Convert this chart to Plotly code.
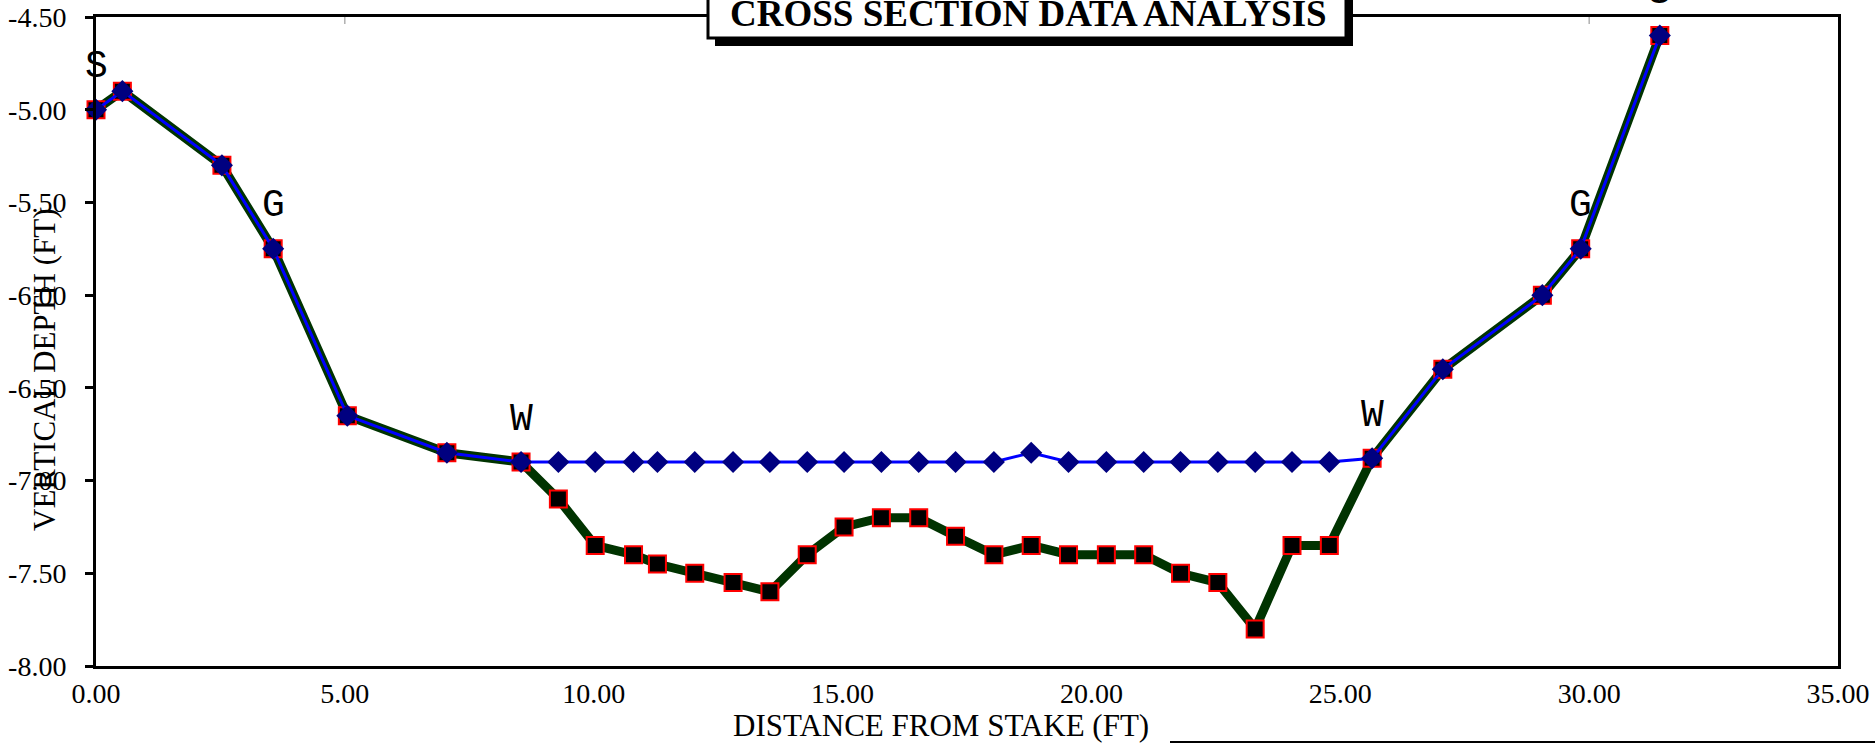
import plotly.graph_objects as go

# station distance from stake (ft)
station = [0.00, 0.53, 2.53, 3.56, 5.05, 7.05, 8.54, 9.29, 10.03, 10.80, 11.28, 12.03,
           12.80, 13.54, 14.29, 15.03, 15.78, 16.53, 17.27, 18.04, 18.79, 19.54, 20.30,
           21.05, 21.79, 22.54, 23.29, 24.03, 24.78, 25.64, 27.06, 29.06, 29.83, 31.42]
# ground (bed) depth
ground = [-5.00, -4.90, -5.30, -5.75, -6.65, -6.85, -6.90, -7.10, -7.35, -7.40, -7.45, -7.50,
          -7.55, -7.60, -7.40, -7.25, -7.20, -7.20, -7.30, -7.40, -7.35, -7.40, -7.40,
          -7.40, -7.50, -7.55, -7.80, -7.35, -7.35, -6.88, -6.40, -6.00, -5.75, -4.60]
# water surface
water = [-5.00, -4.90, -5.30, -5.75, -6.65, -6.85, -6.90, -6.90, -6.90, -6.90, -6.90, -6.90,
         -6.90, -6.90, -6.90, -6.90, -6.90, -6.90, -6.90, -6.90, -6.85, -6.90, -6.90,
         -6.90, -6.90, -6.90, -6.90, -6.90, -6.90, -6.88, -6.40, -6.00, -5.75, -4.60]
# point codes
codes = ["S", "", "", "G", "", "", "W", "", "", "", "", "", "", "", "", "", "", "", "", "",
         "", "", "", "", "", "", "", "", "", "W", "", "", "G", "S"]

# axis ticks (labels use a plain hyphen like the original)
y_ticks = [-8.0, -7.5, -7.0, -6.5, -6.0, -5.5, -5.0, -4.5]
y_tick_labels = ["-8.00", "-7.50", "-7.00", "-6.50", "-6.00", "-5.50", "-5.00", "-4.50"]
x_ticks = [0, 5, 10, 15, 20, 25, 30, 35]
x_tick_labels = ["0.00", "5.00", "10.00", "15.00", "20.00", "25.00", "30.00", "35.00"]

FONT = "Liberation Serif"

# plot area in pixels (canvas 1875 x 746)
L, R, T, B = 96, 1838, 17, 666

def px(x):
    return (x - L) / (R - L)

def py(y):
    return (B - y) / (B - T)

fig = go.Figure()

fig.add_trace(go.Scatter(
    x=station, y=ground, mode="lines+markers", cliponaxis=False, hoverinfo="skip",
    line=dict(color="#003300", width=9),
    marker=dict(symbol="square", size=17, color="black", line=dict(color="red", width=2)),
))
fig.add_trace(go.Scatter(
    x=station, y=water, mode="lines+markers", cliponaxis=False, hoverinfo="skip",
    line=dict(color="#0000ff", width=3),
    marker=dict(symbol="diamond", size=17, color="#000080", line=dict(width=0)),
))

annotations = []
for xs, ys, c in zip(station, ground, codes):
    if c:
        annotations.append(dict(x=xs, y=ys, text=c, showarrow=False, yshift=43,
                                xanchor="center", yanchor="middle",
                                font=dict(family="Liberation Mono", size=38, color="black")))

# title
annotations.append(dict(x=px(1028), y=py(13), xref="paper", yref="paper", showarrow=False,
                        xanchor="center", yanchor="middle",
                        text="<b>CROSS SECTION DATA ANALYSIS</b>",
                        font=dict(family=FONT, size=37, color="black")))
# axis titles
annotations.append(dict(x=px(941), y=py(725), xref="paper", yref="paper", showarrow=False,
                        xanchor="center", yanchor="middle",
                        text="DISTANCE FROM STAKE (FT)",
                        font=dict(family=FONT, size=31, color="black")))
annotations.append(dict(x=px(45), y=py(370), xref="paper", yref="paper", showarrow=False,
                        xanchor="center", yanchor="middle",
                        text="VERTICAL DEPTH (FT)", textangle=-90,
                        font=dict(family=FONT, size=31, color="black")))

shapes = [
    # title box shadow and box
    dict(type="rect", xref="paper", yref="paper", x0=px(715), x1=px(1353), y0=py(46), y1=py(-20),
         fillcolor="black", line=dict(width=0), layer="above"),
    dict(type="rect", xref="paper", yref="paper", x0=px(708), x1=px(1346), y0=py(38), y1=py(-20),
         fillcolor="white", line=dict(color="black", width=3), layer="above"),
    # stray line at bottom right
    dict(type="line", xref="paper", yref="paper", x0=px(1170), x1=px(1880), y0=py(742), y1=py(742),
         line=dict(color="black", width=2)),
    # small marks under top border
    dict(type="line", xref="x", yref="paper", x0=5, x1=5, y0=1, y1=py(T + 7),
         line=dict(color="#888888", width=1)),
    dict(type="line", xref="x", yref="paper", x0=30, x1=30, y0=1, y1=py(T + 7),
         line=dict(color="#888888", width=1)),
]

fig.update_layout(
    width=1875, height=746,
    margin=dict(l=L, r=1875 - R, t=T, b=746 - B, autoexpand=False),
    paper_bgcolor="white", plot_bgcolor="white",
    showlegend=False,
    annotations=annotations,
    shapes=shapes,
)
fig.update_xaxes(range=[0, 35], tickmode="array", tickvals=x_ticks, ticktext=x_tick_labels,
                 automargin=False, showgrid=False, zeroline=False,
                 showline=True, linecolor="black", linewidth=3, mirror=True,
                 ticks="", ticklabelstandoff=0, ticklabeloverflow="allow",
                 tickfont=dict(family=FONT, size=28, color="black"))
fig.update_yaxes(range=[-8, -4.5], tickmode="array", tickvals=y_ticks, ticktext=y_tick_labels,
                 automargin=False, showgrid=False, zeroline=False,
                 showline=True, linecolor="black", linewidth=3, mirror=True,
                 ticks="outside", ticklen=8, tickwidth=3, tickcolor="black",
                 ticklabelstandoff=13, ticklabeloverflow="allow",
                 tickfont=dict(family=FONT, size=28, color="black"))

# drop the default page margin so the figure sits at the window's top-left corner
fig.write_html("out.html", config={"displayModeBar": False},
               post_script="document.body.style.margin = '0';")
